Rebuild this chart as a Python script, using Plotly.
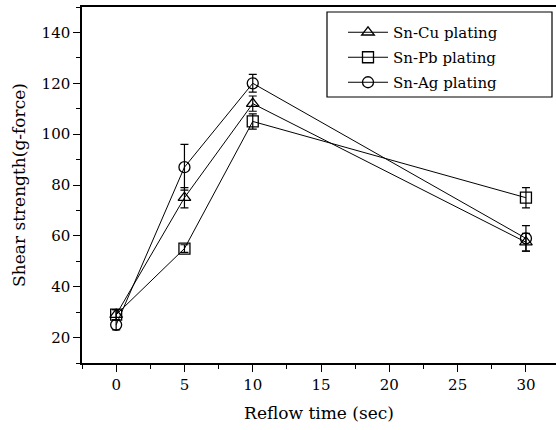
import plotly.graph_objects as go

reflow_time = [0, 5, 10, 30]
series_names = ["Sn-Cu plating", "Sn-Pb plating", "Sn-Ag plating"]
sn_cu = [29, 75, 112, 57.5]
sn_cu_err = [2, 4, 3, 3.5]
sn_pb = [29, 55, 105, 75]
sn_pb_err = [2, 1.5, 3, 4]
sn_ag = [25, 87, 120, 59]
sn_ag_err = [2, 9, 3.5, 5]
symbols = ["triangle-up-open", "square-open", "circle-open"]
x_ticks = [0, 5, 10, 15, 20, 25, 30]
y_ticks = [20, 40, 60, 80, 100, 120, 140]

FONT = "DejaVu Serif"
fig = go.Figure()
for name, vals, errs, sym in zip(series_names, [sn_cu, sn_pb, sn_ag],
                                 [sn_cu_err, sn_pb_err, sn_ag_err], symbols):
    fig.add_trace(go.Scatter(
        x=reflow_time, y=vals, name=name, legendgroup=name, mode="lines+markers",
        line=dict(color="black", width=1),
        marker=dict(symbol=sym, size=11, color="black", line=dict(width=1.3, color="black")),
        error_y=dict(type="data", array=errs, visible=True, color="black",
                     thickness=1.2, width=4),
    ))

# legend frame (drawn as a box in paper space)
fig.add_shape(type="rect", xref="paper", yref="paper",
              x0=(327 - 82) / 474, x1=(552 - 82) / 474,
              y0=1 - (97 - 7) / 356, y1=1 - (12 - 7) / 356,
              line=dict(color="black", width=1.2), fillcolor="rgba(0,0,0,0)")

fig.update_layout(
    width=556, height=430,
    margin=dict(l=82, r=0, t=7, b=67),
    paper_bgcolor="white", plot_bgcolor="white",
    font=dict(family=FONT, color="black", size=15),
    showlegend=True,
    legend=dict(x=(343 - 82) / 474, y=1 - (16 - 7) / 356, xanchor="left", yanchor="top",
                borderwidth=0, bgcolor="rgba(255,255,255,0)", tracegroupgap=2.5,
                font=dict(family=FONT, size=15, color="black"), itemwidth=40),
)
fig.update_xaxes(
    range=[-2.5, 32.2], tickvals=x_ticks, showgrid=False, zeroline=False,
    showline=True, linecolor="black", linewidth=1.5, mirror=True,
    ticks="outside", ticklen=7, tickwidth=1.2, tickcolor="black",
    minor=dict(dtick=2.5, tick0=0, ticks="outside", ticklen=4, tickcolor="black"),
    title=dict(text="Reflow time (sec)", font=dict(size=17, family=FONT, color="black"), standoff=14),
    tickfont=dict(size=15, color="black"),
)
fig.update_yaxes(
    range=[10, 150], tickvals=y_ticks, showgrid=False, zeroline=False,
    showline=True, linecolor="black", linewidth=1.5, mirror=False,
    ticks="outside", ticklen=7, tickwidth=1.2, tickcolor="black",
    minor=dict(dtick=10, tick0=0, ticks="outside", ticklen=4, tickcolor="black"),
    title=dict(text="Shear strength(g-force)", font=dict(size=17, family=FONT, color="black"), standoff=12),
    tickfont=dict(size=15, color="black"),
)
fig.write_html("out.html")
